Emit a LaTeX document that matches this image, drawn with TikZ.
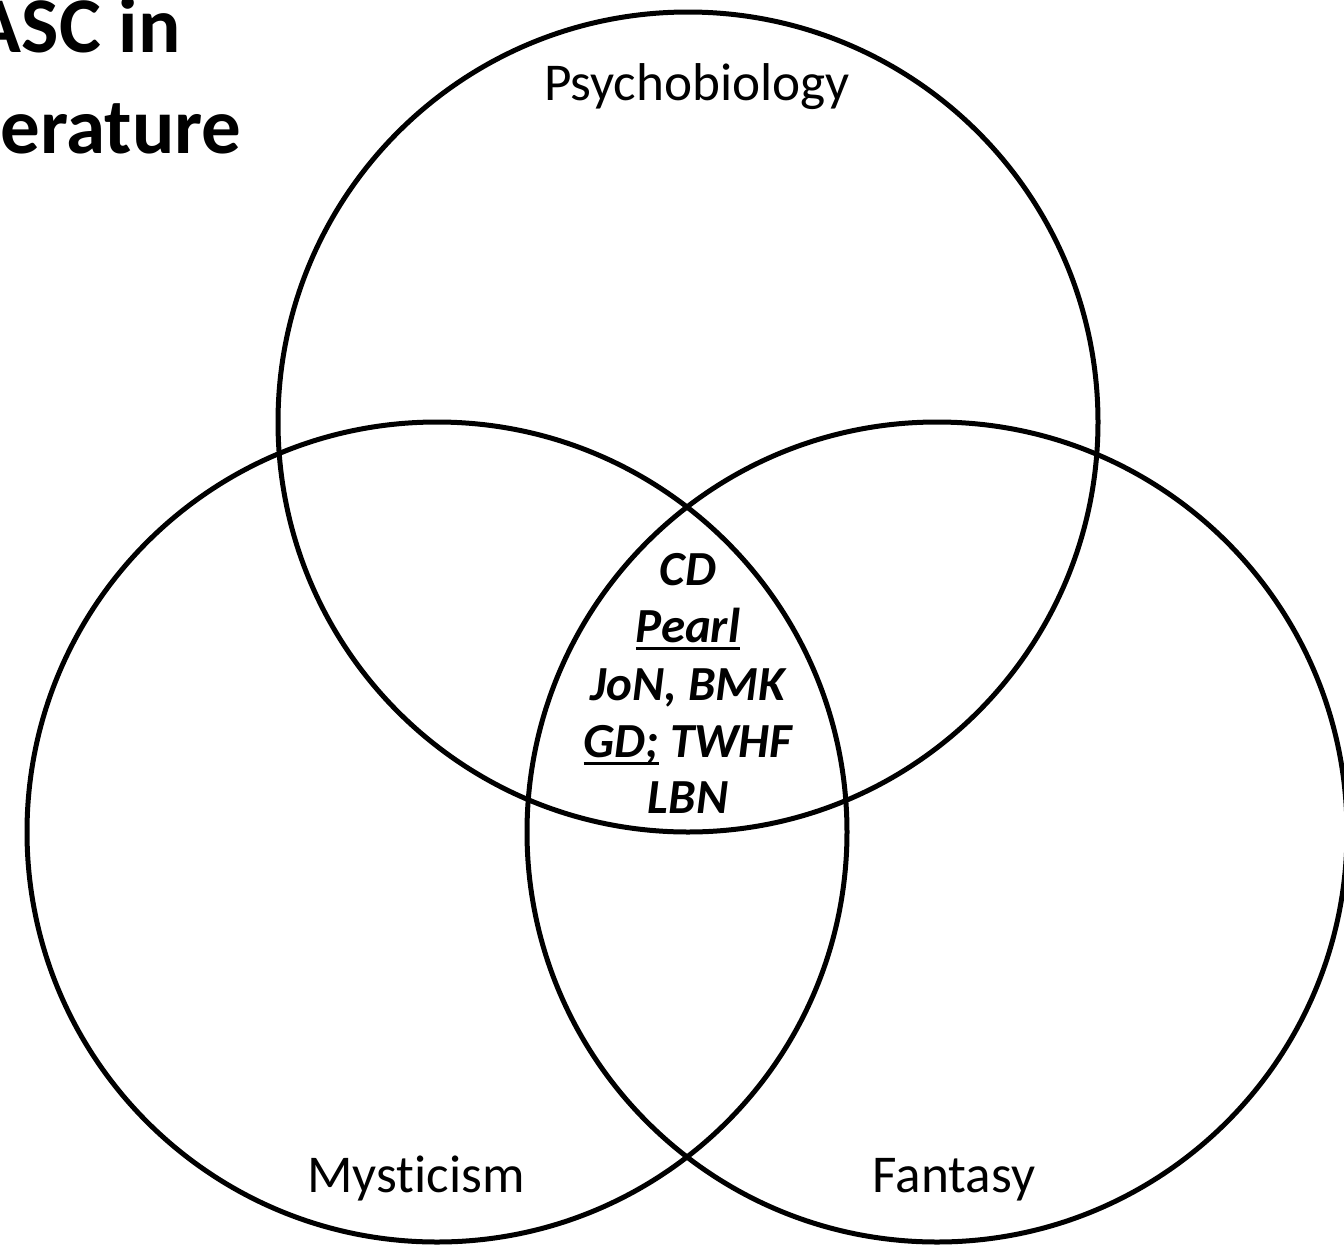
\documentclass[tikz,border=0pt]{standalone}
\usepackage{fontspec}
\setmainfont{Carlito}[Ligatures=NoCommon]
% bolder, slightly lower underline for the highlighted works
\newcommand{\markwork}[1]{\setbox0\hbox{#1}\leavevmode\rlap{\vrule height -2.6pt depth 4.2pt width \wd0}\box0\relax}
\begin{document}
\begin{tikzpicture}[x=0.5pt,y=-0.5pt,
  ring/.style={draw=black, line width=2.5pt},
  setlabel/.style={font=\fontsize{26.6pt}{31pt}\selectfont, inner sep=0pt, anchor=base},
  core/.style={font=\fontsize{24.5pt}{28.5pt}\selectfont\bfseries\itshape, inner sep=0pt, anchor=base},
  heading/.style={font=\fontsize{39.5pt}{46pt}\selectfont\bfseries, inner sep=0pt, anchor=base east}
]
  \useasboundingbox (0,0) rectangle (1344,1248);
  \clip (0,0) rectangle (1344,1248);
  \fill[white] (0,0) rectangle (1344,1248);

  % heading
  \node[heading] (h1) at (181,52) {ASC in};
  \node[heading] (h2) at (242,153) {erature};

  % three overlapping sets
  \draw[ring] (688,422) circle [radius=205pt];
  \draw[ring] (437,832) circle [radius=205pt];
  \draw[ring] (937,832) circle [radius=205pt];

  % set names
  \node[setlabel] (psy) at (697,100) {Psychobiology};
  \node[setlabel] (mys) at (416,1192) {Mysticism};
  \node[setlabel] (fan) at (954,1192) {Fantasy};

  % works in the common intersection
  \node[core] (c1) at (688,585) {CD};
  \node[core] (c2) at (688,642) {\markwork{Pearl}};
  \node[core] (c3) at (688,700) {JoN, BMK};
  \node[core] (c4) at (688,757) {\markwork{GD;} TWHF};
  \node[core] (c5) at (688,813) {LBN};
\end{tikzpicture}
\end{document}
